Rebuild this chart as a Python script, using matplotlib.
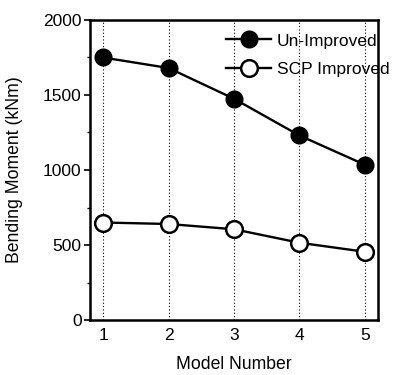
import matplotlib
matplotlib.use("Agg")
import matplotlib.pyplot as plt
from matplotlib.ticker import MultipleLocator

# Data
models = [1, 2, 3, 4, 5]
un_improved = [1750, 1680, 1475, 1230, 1035]
scp_improved = [650, 640, 605, 515, 455]
series_labels = ["Un-Improved", "SCP Improved"]

plt.rcParams['font.family'] = ['Liberation Sans', 'DejaVu Sans']

fig = plt.figure(figsize=(3.93, 3.75), dpi=100)
ax = fig.add_axes([90 / 393, 55 / 375, 288 / 393, 300 / 375])

for x in models:
    ax.axvline(x, color='black', linestyle=(0, (1, 2)), linewidth=0.8, zorder=0)

ax.plot(models, un_improved, '-o', color='black', linewidth=1.7,
        markersize=12, markerfacecolor='black', markeredgecolor='black',
        label=series_labels[0], zorder=3)
ax.plot(models, scp_improved, '-o', color='black', linewidth=1.7,
        markersize=12, markerfacecolor='white', markeredgecolor='black',
        markeredgewidth=1.8, label=series_labels[1], zorder=3)

ax.set_xlim(0.8, 5.2)
ax.set_ylim(0, 2000)
ax.set_xticks(models)
ax.yaxis.set_major_locator(MultipleLocator(500))
ax.yaxis.set_minor_locator(MultipleLocator(250))
ax.tick_params(axis='both', which='major', labelsize=12.5, direction='out',
               length=4, width=1.2, pad=2)
ax.tick_params(axis='y', which='minor', direction='out', length=2, width=1)
ax.tick_params(axis='x', which='major', length=0, pad=6)

for s in ax.spines.values():
    s.set_linewidth(1.8)

ax.set_xlabel("Model Number", fontsize=12.7, labelpad=9)
ax.set_ylabel("Bending Moment (kNm)", fontsize=12.7, labelpad=14)

leg = ax.legend(loc='upper right', bbox_to_anchor=(1.075, 0.99), frameon=False,
                fontsize=12.5, handlelength=2.6, handletextpad=0.3,
                borderaxespad=0.2, labelspacing=0.75)

fig.savefig("out.png", dpi=100, facecolor='white')
